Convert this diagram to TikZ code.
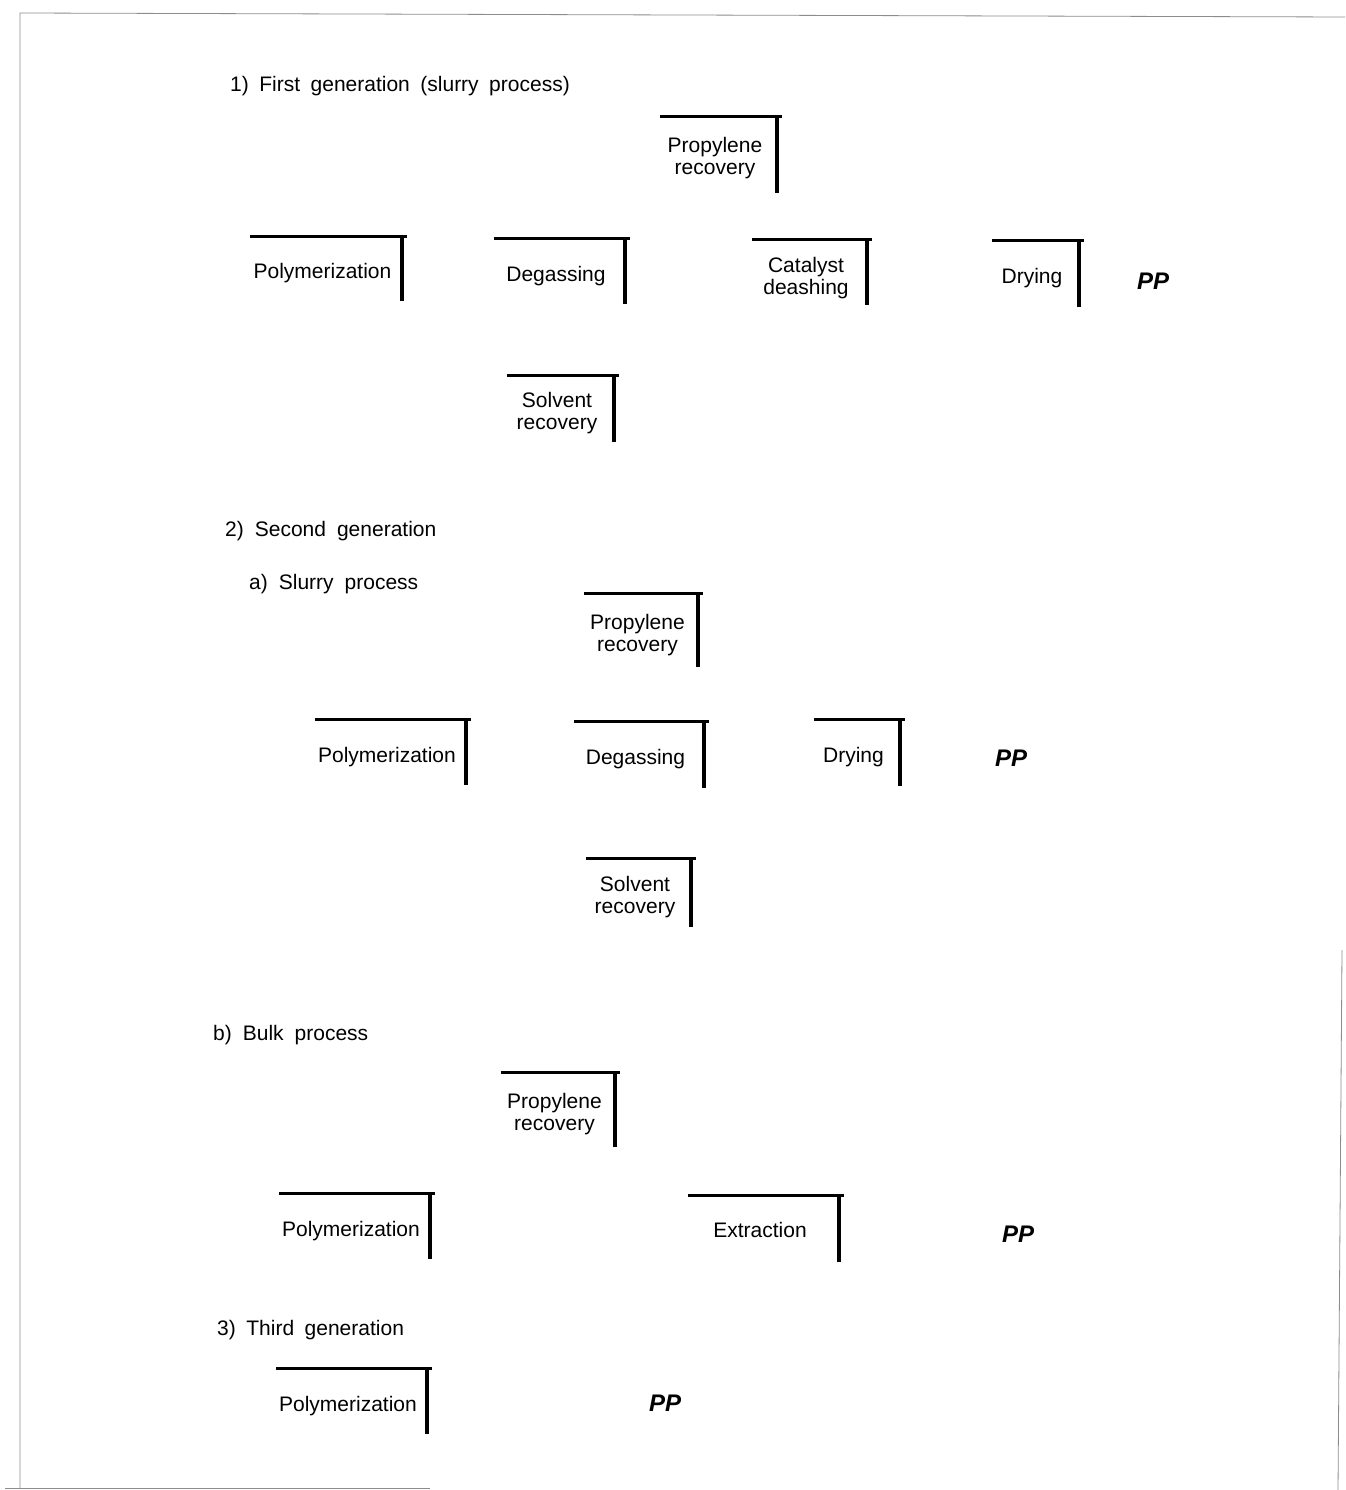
\documentclass[tikz,border=0pt]{standalone}
\usepackage{fontspec}
\setmainfont{Liberation Sans}
\newcommand\widesp[1]{\spaceskip=#1 plus 1pt\relax}
\begin{document}
\begin{tikzpicture}[x=1pt,y=-1pt,
  procnode/.style={rectangle,inner sep=0pt},
  proctext/.style={inner sep=0pt,align=center,font=\fontsize{21}{22}\selectfont},
  topline/.style={line width=3pt,line cap=butt},
  sideline/.style={line width=4.6pt,line cap=butt},
  heading/.style={anchor=base west,inner sep=0pt,font=\fontsize{21}{24}\selectfont},
  product/.style={inner sep=0pt,font=\fontsize{24}{28}\selectfont\bfseries\itshape},
  frameline/.style={line width=0.8pt,draw=black!45}]
\useasboundingbox (0,0) rectangle (1345,1490);
% page frame
\draw[frameline] (20,1488) -- (20,13) -- (1345,17);
\draw[frameline] (5,1488) -- (430,1488);
\draw[frameline] (1342,950) -- (1338,1490);
% box macro: [text yshift] name, left, top, right, bottom, text
\newcommand\pbox[7][-4.5pt]{%
  \node[procnode,minimum width={#5-#3},minimum height={#6-#4},
        label={[proctext,name=#2t,xshift=-4.5pt,yshift=#1]center:#7}]
        (#2) at ({(#3+#5)/2},{(#4+#6)/2}) {};
  \draw[topline] (#2.north west) -- ([xshift=2.3pt]#2.north east);
  \draw[sideline] ([xshift=-2.3pt,yshift=1.5pt]#2.north east) -- ([xshift=-2.3pt]#2.south east);
}
% ---- 1) First generation
\node[heading] (h1) at (230,92) {\widesp{10.5pt}1) First generation (slurry process)};
\pbox[-3pt]{a1}{660}{117}{779}{193}{Propylene\\recovery}
\pbox{a2}{250}{237}{404}{301}{Polymerization}
\pbox{a3}{494}{239}{627}{304}{Degassing}
\pbox[-5.5pt]{a4}{752}{240}{869}{305}{Catalyst\\deashing}
\pbox{a5}{992}{241}{1081}{307}{Drying}
\node[product] (a6) at (1153,281) {PP};
\pbox{a7}{507}{376}{616}{442}{Solvent\\recovery}
% ---- 2) Second generation
\node[heading] (h2) at (225,536) {\widesp{11pt}2) Second generation};
\node[heading] (h2a) at (249,589) {\widesp{11pt}a) Slurry process};
\pbox{b1}{584}{594}{700}{667}{Propylene\\recovery}
\pbox{b2}{315}{720}{468}{785}{Polymerization}
\pbox{b3}{574}{722}{706}{788}{Degassing}
\pbox{b4}{814}{720}{902}{786}{Drying}
\node[product] (b5) at (1011,758) {PP};
\pbox{b6}{586}{859}{693}{927}{Solvent\\recovery}
% ---- b) Bulk process
\node[heading] (h2b) at (213,1040) {\widesp{11pt}b) Bulk process};
\pbox{c1}{501}{1073}{617}{1147}{Propylene\\recovery}
\pbox{c2}{279}{1194}{432}{1259}{Polymerization}
\pbox[-1pt]{c3}{688}{1196}{841}{1262}{Extraction}
\node[product] (c4) at (1018,1234) {PP};
% ---- 3) Third generation
\node[heading] (h3) at (217,1335) {\widesp{10.5pt}3) Third generation};
\pbox{d1}{276}{1369}{429}{1434}{Polymerization}
\node[product] (d2) at (665,1403) {PP};
\end{tikzpicture}
\end{document}
